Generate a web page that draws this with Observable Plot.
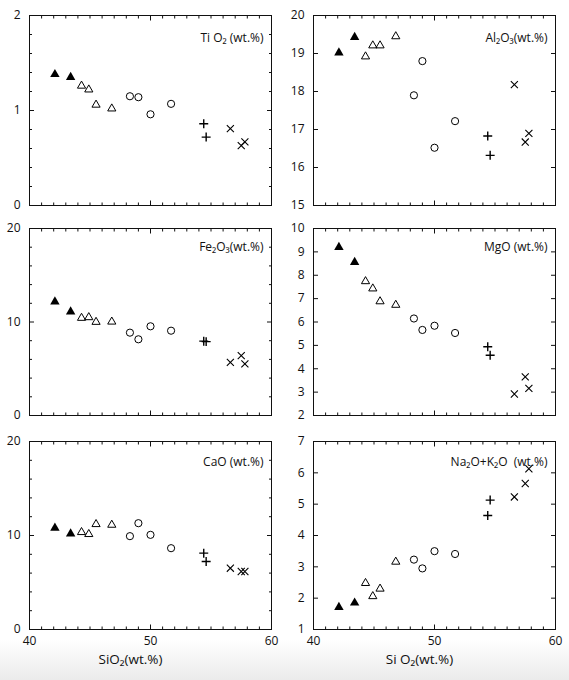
<!DOCTYPE html>
<html><head><meta charset="utf-8">
<script src="https://cdn.jsdelivr.net/npm/d3@7"></script>
<script src="https://cdn.jsdelivr.net/npm/@observablehq/plot@0.6"></script>
<style>
body{margin:0;background:#fff;}
#wrap{position:relative;width:569px;height:680px;background:linear-gradient(to bottom,#fff 0,#fff 640px,#ebebeb 680px);}
#wrap svg{position:absolute;}
</style></head><body><div id="wrap"></div>
<script>
// SiO2 (wt.%) of the 15 samples
const sio2  = [42.1, 43.4, 44.3, 44.9, 45.5, 46.8, 48.3, 49.0, 50.0, 51.7, 54.4, 54.6, 56.6, 57.5, 57.8];
// rock group of each sample (symbol)
const group = ["A","A","B","B","B","B","C","C","C","C","D","D","E","E","E"];
const tio2  = [1.38, 1.35, 1.26, 1.22, 1.06, 1.02, 1.15, 1.14, 0.96, 1.07, 0.86, 0.72, 0.81, 0.63, 0.67];
const al2o3 = [19.02, 19.43, 18.92, 19.21, 19.21, 19.45, 17.90, 18.80, 16.52, 17.22, 16.83, 16.32, 18.18, 16.67, 16.90];
const fe2o3 = [12.17, 11.1, 10.43, 10.5, 10.0, 10.03, 8.86, 8.15, 9.54, 9.07, 7.95, 7.9, 5.69, 6.4, 5.52];
const mgo   = [9.2, 8.56, 7.74, 7.43, 6.88, 6.73, 6.15, 5.66, 5.84, 5.53, 4.94, 4.58, 2.92, 3.65, 3.16];
const cao   = [10.8, 10.18, 10.35, 10.14, 11.2, 11.13, 9.93, 11.31, 10.07, 8.65, 8.12, 7.23, 6.52, 6.17, 6.17];
const alk   = [1.71, 1.85, 2.48, 2.06, 2.30, 3.16, 3.23, 2.95, 3.50, 3.41, 4.64, 5.13, 5.23, 5.66, 6.13];

const titles = ["Ti O₂ (wt.%)", "Al₂O₃(wt.%)", "Fe₂O₃(wt.%)", "MgO (wt.%)", "CaO (wt.%)", "Na₂O+K₂O  (wt.%)"];
const xLabels = ["SiO₂(wt.%)", "Si O₂(wt.%)"];
const xMajor = [40, 50, 60];
const xMinor = d3.range(41, 60).filter(d => d !== 50);

const panels = [
  {vals: tio2,  domain: [0, 2],   major: [0, 1, 2],        minor: [0.2,0.4,0.6,0.8,1.2,1.4,1.6,1.8]},
  {vals: al2o3, domain: [15, 20], major: [15,16,17,18,19,20], minor: []},
  {vals: fe2o3, domain: [0, 20],  major: [0, 10, 20],      minor: [2,4,6,8,12,14,16,18]},
  {vals: mgo,   domain: [2, 10],  major: [2,3,4,5,6,7,8,9,10], minor: []},
  {vals: cao,   domain: [0, 20],  major: [0, 10, 20],      minor: [2,4,6,8,12,14,16,18]},
  {vals: alk,   domain: [1, 7],   major: [1,2,3,4,5,6,7],  minor: []}
];

const rows = [{top: 0, fh: 190, tdy: 18}, {top: 213, fh: 187, tdy: 14}, {top: 426, fh: 188, tdy: 16}];
const font = "'Open Sans', 'DejaVu Sans', sans-serif";
const wrap = document.getElementById("wrap");

panels.forEach((p, k) => {
  const col = k % 2, row = Math.floor(k / 2);
  const r = rows[row];
  const isBottom = row === 2;
  const mt = 15, mb = isBottom ? 51 : 2;
  const data = sio2.map((x, i) => ({x, y: p.vals[i], g: group[i]}));
  const tickAxis = (anchor, ticks, size, isX) => (isX ? Plot.axisX : Plot.axisY)({
    anchor, ticks, tickSize: -size, fill: "none", label: null, stroke: "#111", strokeWidth: 1
  });
  const marks = [
    Plot.frame({stroke: "#111", strokeWidth: 1}),
    Plot.axisY({anchor: "left", ticks: p.major, tickSize: 0, tickPadding: 9, label: null, tickFormat: d3.format("d"), fontSize: 12}),
    tickAxis("left", p.major, 5, false),
    tickAxis("right", p.major, 5, false),
    tickAxis("bottom", xMajor, 4.5, true),
    tickAxis("top", xMajor, 4.5, true),
    tickAxis("bottom", xMinor, 2.5, true),
    tickAxis("top", xMinor, 2.5, true)
  ];
  if (p.minor.length) {
    marks.push(tickAxis("left", p.minor, 3, false), tickAxis("right", p.minor, 3, false));
  }
  if (isBottom) {
    marks.push(Plot.axisX({anchor: "bottom", ticks: xMajor, tickSize: 0, tickPadding: 7, label: null, tickFormat: d3.format("d"), fontSize: 12}));
    marks.push(Plot.text([xLabels[col]], {frameAnchor: "bottom", text: d => d, dy: 34, dx: col === 0 ? -20 : -15, fontSize: 13.5, fill: "#111"}));
  }
  marks.push(
    Plot.text([titles[k]], {frameAnchor: "top-right", text: d => d, textAnchor: "end", dx: -8, dy: r.tdy, fontSize: 12, fill: "#111"}),
    Plot.dot(data, {filter: d => d.g === "A", x: "x", y: "y", symbol: "triangle", r: 3.5, fill: "#000", stroke: "none"}),
    Plot.dot(data, {filter: d => d.g === "B", x: "x", y: "y", symbol: "triangle2", r: 3.9, fill: "none", stroke: "#000", strokeWidth: 1}),
    Plot.dot(data, {filter: d => d.g === "C", x: "x", y: "y", symbol: "circle", r: 3.6, fill: "none", stroke: "#000", strokeWidth: 1}),
    Plot.dot(data, {filter: d => d.g === "D", x: "x", y: "y", symbol: "plus", r: 3.0, fill: "none", stroke: "#000", strokeWidth: 1.4}),
    Plot.dot(data, {filter: d => d.g === "E", x: "x", y: "y", symbol: "times", r: 3.3, fill: "none", stroke: "#000", strokeWidth: 1.1})
  );
  const svg = Plot.plot({
    width: 284, height: mt + r.fh + mb,
    marginLeft: 29, marginRight: 13, marginTop: mt, marginBottom: mb,
    x: {domain: [40, 60]},
    y: {domain: p.domain},
    style: {fontFamily: font, background: "transparent", overflow: "visible", color: "#111"},
    marks
  });
  svg.style.left = (col * 284) + "px";
  svg.style.top = r.top + "px";
  wrap.appendChild(svg);
});
</script>
</body></html>
